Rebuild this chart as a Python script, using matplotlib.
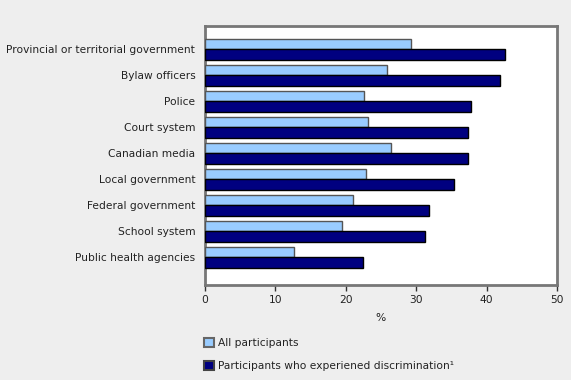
import numpy as np
import matplotlib
matplotlib.use("Agg")
import matplotlib.pyplot as plt
from matplotlib.patches import Patch

# data
categories = ["Provincial or territorial government", "Bylaw officers", "Police",
              "Court system", "Canadian media", "Local government",
              "Federal government", "School system", "Public health agencies"]
all_participants = [29.3, 25.9, 22.6, 23.2, 26.4, 22.9, 21.0, 19.5, 12.7]
discriminated = [42.6, 41.9, 37.8, 37.3, 37.3, 35.3, 31.8, 31.2, 22.5]
series_names = ["All participants", "Participants who experiened discrimination\u00b9"]
xticks = [0, 10, 20, 30, 40, 50]

W, H = 571, 380
fig = plt.figure(figsize=(W / 100, H / 100), dpi=100, facecolor="#eeeeee")
# axes box in pixels: x 205-557, y 26-285
ax = fig.add_axes([205 / W, 1 - 285 / H, (557 - 205) / W, (285 - 26) / H])
ax.set_facecolor("white")

y = np.arange(len(categories))
h = 0.4
ax.barh(y - h / 2, all_participants, height=h, color="#99ccff",
        edgecolor="#555555", linewidth=1.0, zorder=3)
ax.barh(y + h / 2, discriminated, height=h, color="#000080",
        edgecolor="#000000", linewidth=1.0, zorder=3)

ax.set_xlim(0, 50)
ax.set_ylim(8 + 1.06, -0.9)
ax.set_yticks(y)
ax.set_yticklabels(categories, fontsize=7.7, color="#222222")
ax.tick_params(axis="y", length=0, pad=7)
ax.set_xticks(xticks)
ax.tick_params(axis="x", length=4, width=1, color="#333333", labelsize=7.7,
               labelcolor="#222222", pad=3)

for s in ax.spines.values():
    s.set_color("#777777")
    s.set_linewidth(2)

ax.set_xlabel("%", fontsize=7.7, color="#222222", labelpad=6)

handles = [Patch(facecolor="#99ccff", edgecolor="#666666", linewidth=1.5),
           Patch(facecolor="#000080", edgecolor="#444444", linewidth=1.5)]
fig.legend(handles, series_names, loc="upper left",
           bbox_to_anchor=(194 / W, 1 - 328 / H), frameon=False,
           fontsize=7.7, handlelength=1.0, handleheight=1.0, handletextpad=0.3,
           labelspacing=1.2, labelcolor="#222222")

fig.savefig("out.png", dpi=100, facecolor=fig.get_facecolor())
